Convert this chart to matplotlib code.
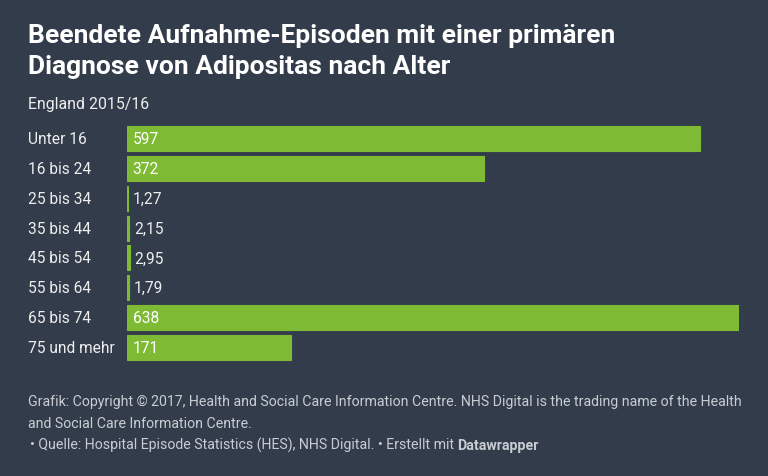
import matplotlib.pyplot as plt
import matplotlib.transforms as mtransforms

# data
categories = ['Unter 16', '16 bis 24', '25 bis 34', '35 bis 44', '45 bis 54',
              '55 bis 64', '65 bis 74', '75 und mehr']
values = [597, 372, 1.27, 2.15, 2.95, 1.79, 638, 171]
value_labels = ['597', '372', '1,27', '2,15', '2,95', '1,79', '638', '171']

bg = '#333c4b'
green = '#7fba35'
W, H = 768, 477

plt.rcParams['font.family'] = ['Roboto', 'DejaVu Sans']

fig = plt.figure(figsize=(W / 100, H / 100), dpi=100, facecolor=bg)

# axes in pixel positions
left, right = 127, 739
top, bottom = 124.5, 363.5
ax = fig.add_axes([left / W, 1 - bottom / H, (right - left) / W, (bottom - top) / H])
ax.set_facecolor(bg)
for s in ax.spines.values():
    s.set_visible(False)
ax.set_xticks([])
ax.set_yticks([])

ypos = list(range(len(categories)))
ax.barh(ypos, values, height=0.835, color=green, edgecolor=green, linewidth=0.8)
ax.set_xlim(0, max(values))
ax.set_ylim(len(categories) - 0.5, -0.5)

lab_trans = mtransforms.blended_transform_factory(fig.transFigure, ax.transData)
for y, v, lab, cat in zip(ypos, values, value_labels, categories):
    if v > 50:
        ax.annotate(lab, (0, y), xytext=(4, 0), textcoords='offset points',
                    ha='left', va='center', color='white', fontsize=11.2)
    else:
        ax.annotate(lab, (v, y), xytext=(3.5, 0), textcoords='offset points',
                    ha='left', va='center', color='#eeeeee', fontsize=11.2)
    ax.text(28 / W, y, cat, transform=lab_trans, ha='left', va='center',
            color='#eeeeee', fontsize=11.2)

# title etc.
fig.text(28 / W, 1 - 43 / H, 'Beendete Aufnahme-Episoden mit einer primären',
         color='white', fontsize=19, fontweight='bold', va='baseline')
fig.text(28 / W, 1 - 74 / H, 'Diagnose von Adipositas nach Alter',
         color='white', fontsize=19, fontweight='bold', va='baseline')
fig.text(28 / W, 1 - 109 / H, 'England 2015/16', color='#eeeeee', fontsize=11.4,
         va='baseline')

foot = '#c9cdd3'
fsize = 10.2
fig.text(28 / W, 1 - 406 / H,
         'Grafik: Copyright © 2017, Health and Social Care Information Centre. '
         'NHS Digital is the trading name of the Health',
         color=foot, fontsize=fsize, va='baseline')
fig.text(28 / W, 1 - 428 / H, 'and Social Care Information Centre.',
         color=foot, fontsize=fsize, va='baseline')
t = fig.text(30 / W, 1 - 450 / H,
             '• Quelle: Hospital Episode Statistics (HES), NHS Digital. • Erstellt mit ',
             color=foot, fontsize=fsize, va='baseline')
fig.canvas.draw()
bb = t.get_window_extent()
fig.text(bb.x1 / W, 1 - 450 / H, 'Datawrapper', color=foot, fontsize=fsize,
         fontweight='bold', va='baseline')

fig.savefig('out.png', dpi=100, facecolor=bg)
